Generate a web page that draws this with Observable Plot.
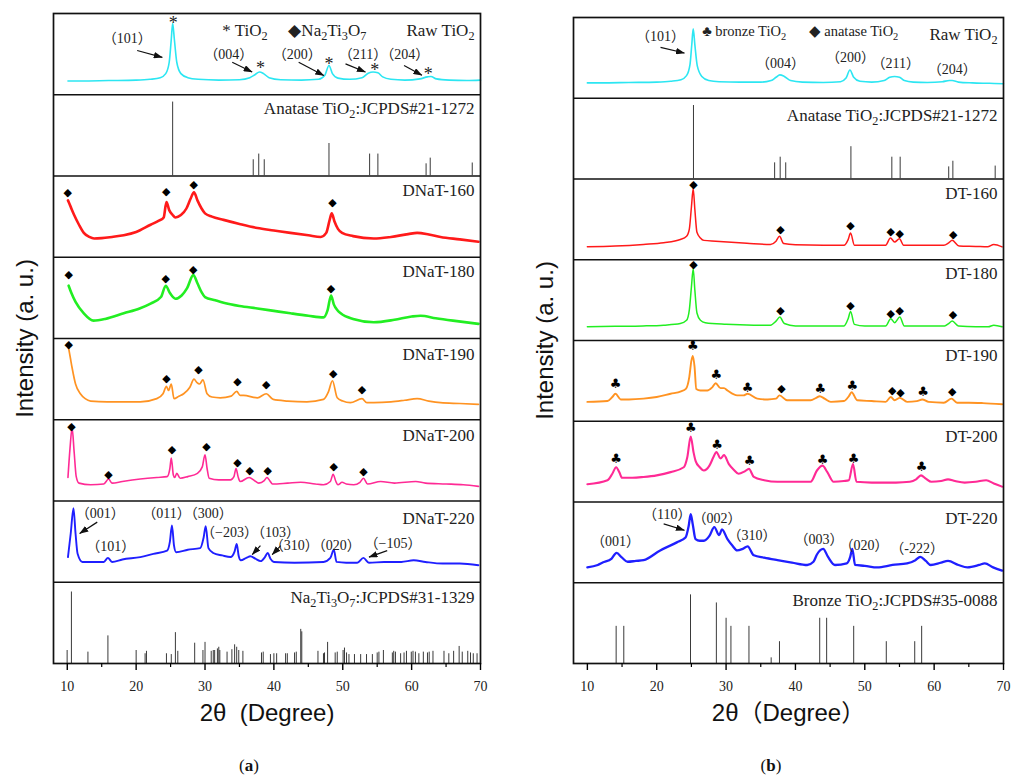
<!DOCTYPE html>
<html><head><meta charset="utf-8">
<script src="https://cdn.jsdelivr.net/npm/d3@7"></script>
<script src="https://cdn.jsdelivr.net/npm/@observablehq/plot@0.6"></script>
<style>
body{margin:0;background:#fff;}
#wrap{position:relative;width:1012px;height:778px;overflow:hidden;background:#fff;}
.panel{position:absolute;top:0;}
.cap{position:absolute;top:756px;line-height:20px;font-size:17px;font-family:"Liberation Serif",serif;transform:translateX(-50%);color:#111;}
</style></head><body><div id="wrap"></div>
<script>
// ---------- shared axis ----------
const xDomain = [8, 70];
const majorTicks = [10, 20, 30, 40, 50, 60, 70];
const minorTicks = [15, 25, 35, 45, 55, 65];

// ---------- reference patterns (2θ, relative height % of row) ----------
const anataseSticks = [[25.3,91],[37.0,20],[37.8,27],[38.6,20],[48.0,40],[53.9,27],[55.1,27],[62.1,15],[62.7,22],[68.8,16]];
const na2ti3o7Sticks = [[9.98,16],[10.6,88],[13.0,14],[15.9,34],[20.0,16],[21.3,12],[21.5,15],[24.4,12],[25.1,11],[25.7,38],[26.05,15],[28.5,25],[29.7,16],[30.0,26],[30.9,15],[31.2,16],[31.4,16],[31.8,18],[32.0,20],[32.15,16],[33.2,14],[33.9,17],[34.3,23],[34.6,20],[34.9,16],[35.5,15],[38.2,13],[38.45,14],[39.5,11],[40.0,12],[40.4,12],[41.7,12],[41.95,12],[43.0,13],[43.25,14],[43.9,42],[44.05,39],[46.4,15],[47.2,12],[47.35,13],[47.8,26],[48.9,13],[49.2,14],[50.05,16],[50.25,19],[50.55,13],[50.9,11],[51.7,11],[52.6,11],[53.45,11],[54.3,11],[55.0,13],[55.25,14],[55.9,16],[57.2,13],[57.4,15],[57.65,14],[58.4,12],[58.9,13],[59.25,15],[59.95,14],[60.2,15],[60.55,14],[61.05,12],[61.7,14],[62.3,13],[62.55,14],[63.1,15],[64.7,15],[65.4,12],[66.1,15],[66.9,21],[67.35,14],[68.15,15],[68.55,13],[68.95,12],[69.5,12]];
const bronzeSticks = [[14.15,46],[15.25,46],[24.87,85],[28.6,75],[30.0,56],[30.7,46],[33.3,46],[36.5,7],[37.7,27],[43.5,56],[44.5,56],[48.4,46],[53.1,27],[57.2,27],[58.2,46]];

// ---------- measured patterns (2θ, relative height % of row) ----------
const rawTiO2 = [[10.1,17],[12,17],[16,17.5],[20,18],[22,19],[23.5,21],[24.3,26],[24.8,40],[25.1,68],[25.3,88],[25.55,68],[25.9,40],[26.5,26],[27.5,21],[29,19],[32,18],[35,18.5],[36.5,21],[37.3,25],[37.9,28],[38.5,26],[39.3,21],[41,18.5],[44,18],[46.5,19],[47.4,24],[48,36],[48.5,26],[49.3,20.5],[51,19],[52.8,21],[53.7,26.5],[54.4,28],[55.1,27],[55.8,22],[57,19],[59,18],[61.2,19.5],[62.3,22],[62.8,22.5],[63.6,19.5],[65.5,18],[68,17.5],[70,18]];
const dnat160 = [[10.1,70],[10.5,62],[11,52],[11.7,40],[12.4,30],[13.2,25],[13.9,23],[15,23.5],[16.5,25],[18.2,27],[20,31],[22.1,40],[23.3,45],[24,49],[24.4,68],[24.8,58],[25.3,52],[25.7,49],[26.5,52],[27.3,60],[27.9,72],[28.4,80],[28.9,70],[29.5,60],[30,54],[31,50],[32.7,46],[35,41],[37.6,36],[40,33],[42.4,30],[45,27],[46.8,25],[47.6,30],[48.1,46],[48.4,54],[48.8,44],[49.3,35],[49.9,30],[51.5,26],[54.5,23],[57,25],[59.5,28.5],[60.8,30],[62.5,28],[64.2,25],[67,22],[69.7,19]];
const dnat180 = [[10.2,65],[10.6,56],[11.2,45],[12.4,31],[13.8,22],[15.5,24],[18.2,31],[20.5,37],[22.1,43],[23.6,51],[24.3,65],[24.9,56],[25.7,49],[26.6,53],[27.4,62],[28.3,78],[28.9,68],[29.5,57],[30,51],[31.5,47],[32.7,44],[35,40],[37.6,37],[40,34],[42.4,31],[45,28],[47.2,26],[47.8,35],[48.3,53],[48.7,42],[49.2,35],[49.7,31],[51.5,24],[54.5,20],[57.5,23],[60,27],[61.3,28],[63.5,25],[66,22],[69.7,18]];
const dnat190 = [[10.2,88],[10.45,76],[10.7,64],[11.2,44],[11.9,32],[12.6,26],[13.4,23],[15.8,22],[18,22],[20.6,22],[23,26],[23.9,32],[24.4,41],[24.7,36],[25.1,44],[25.5,26],[26.2,29],[26.9,32],[27.8,40],[28.4,50],[28.8,46],[29.2,44],[29.7,49],[30.3,32],[31,28],[32.2,27],[33.8,29],[34.6,35],[35.1,30],[35.6,30],[37.6,27],[38.9,32],[39.9,25],[42,23],[44.8,22],[47.2,25],[47.9,34],[48.5,48],[49.2,27],[50,23],[51.1,21],[52.8,26],[53.5,21],[54.5,21],[57,22],[59,24],[60.8,26],[62.5,23],[64.2,21],[67,20],[69.7,19]];
const dnat200 = [[10.1,29],[10.4,65],[10.7,90],[11.0,60],[11.3,30],[11.7,22],[13.4,20],[15.3,21],[16.0,27],[16.5,22],[18,24],[20.6,27],[23,29],[24.5,30],[24.9,40],[25.1,53],[25.4,32],[25.6,29],[25.9,34],[26.4,28],[27.5,30],[28.9,34],[29.6,42],[30.0,57],[30.3,40],[30.6,28],[32,26],[33.7,26],[34.2,30],[34.5,40],[34.8,30],[35.1,24],[36.4,29],[37.2,25],[37.8,22],[38.6,25],[39.0,29],[39.4,25],[39.8,21],[42,22],[43.9,23],[46,21],[47.2,20],[48.2,24],[48.6,33],[49.0,24],[49.3,20],[49.9,23],[50.5,21],[51.6,20],[52.5,23],[53.0,28],[53.6,21],[55.5,24],[57.5,22],[60.6,24],[62,22],[65,21],[67.5,20],[69.7,18]];
const dnat220 = [[10.1,31],[10.5,60],[10.9,91],[11.2,60],[11.5,35],[12.2,25],[14,25],[15.3,25],[15.9,30],[16.5,25],[18,28],[20.6,31],[22.5,35],[24.5,39],[24.9,50],[25.2,70],[25.5,45],[25.8,37],[27.5,40],[29.3,42],[29.8,55],[30.1,69],[30.5,42],[31.2,36],[32.5,33],[33.7,31],[34.3,38],[34.6,47],[34.9,32],[35.2,27],[36.0,30],[36.6,32],[37.3,29],[38.1,26],[38.7,31],[39.1,36],[39.5,29],[40.0,25],[43,24],[47.2,25],[48.2,30],[48.7,40],[49.1,25],[50.5,24],[52.1,24],[53.0,30],[53.8,24],[56,25],[58.5,25],[60.3,27],[62,25],[64.5,23],[67,23],[69.7,21]];
const rawTiO2b = [[10,19],[12,19],[16,19.5],[20,20],[22,21],[23.5,23],[24.3,28],[24.8,42],[25.05,66],[25.26,86],[25.5,66],[25.85,40],[26.5,27],[27.5,22],[29,20.5],[32,20],[35,20],[36.5,22],[37.2,26],[37.75,29],[38.4,27],[39.3,22],[41,20],[44,19.5],[46.5,20.5],[47.3,25],[47.85,35],[48.4,26],[49.3,21],[51,20],[52.8,22],[53.6,26],[54.3,27],[55.0,26],[55.7,22],[57,20],[59,19.5],[61.2,20.5],[62.2,22],[62.6,22],[63.5,20],[65.5,19],[68,18.5],[70,18]];
const dt160 = [[10,16],[14,17],[18.1,19],[21,21],[23.4,25],[24.3,29],[24.7,38],[25.0,65],[25.26,88],[25.5,62],[25.8,34],[26.3,27],[26.8,24],[28.5,23],[30.2,22],[33,20.5],[36.4,19],[37.2,23],[37.7,29],[38.3,20],[40,18.5],[44,18],[47.0,18],[47.6,25],[47.95,33],[48.5,18],[50,18],[53.0,18],[53.7,27],[54.3,22],[55.0,26],[55.6,18],[58,18],[61.4,18],[62.1,21],[62.6,24],[63.6,17],[66,16.5],[67.7,16],[68.6,19],[69.8,16]];
const dt180 = [[10,17],[14,17.5],[18,18],[21,19],[23.4,21],[24.3,25],[24.7,38],[25.0,66],[25.26,89],[25.5,62],[25.8,34],[26.3,25],[27,22],[30,20],[34,19],[36.4,19],[37.2,24],[37.75,29],[38.4,21],[40,18],[44,18],[47.0,18],[47.6,27],[47.95,36],[48.5,20],[50,18],[53.0,18],[53.75,27],[54.3,22],[55.05,29],[55.7,18],[58,18],[61.5,18],[62.1,21],[62.6,24],[63.5,18],[66,17],[67.8,17],[68.6,19],[69.8,17]];
const dt190 = [[10,24],[12.9,25],[13.6,30],[14.05,34],[14.8,27],[16,27],[18.1,28],[20,30],[22,34],[23.5,37],[24.2,40],[24.7,55],[25.0,75],[25.2,81],[25.45,68],[25.7,40],[26.3,38],[27.3,38],[28.0,42],[28.5,47],[29.2,41],[29.7,41],[30.2,38],[31.6,32],[32.5,32],[33.1,34],[34.5,28],[36,27],[37.2,28],[37.7,32],[38.8,26],[40.5,26],[42.2,26],[43.0,29],[43.5,31],[44.2,28],[45.1,24],[47,25],[47.7,31],[48.1,36],[48.9,26],[51,25],[53.0,24],[53.75,30],[54.3,26],[55.05,29],[56.1,24],[57.5,25],[58.3,27],[59.2,24],[61.4,23],[62.5,28],[63.3,23],[65,23],[67,22.5],[69.8,21]];
const dt200 = [[10,22],[12.9,27],[13.6,35],[14.15,43],[14.6,37],[15.0,30],[16.5,30],[18.1,31],[20,33],[22,37],[23.9,43],[24.4,55],[24.9,81],[25.3,62],[25.6,51],[26.2,43],[26.8,39],[27.6,45],[28.2,56],[28.6,62],[29.2,54],[29.7,58],[30.4,47],[31.1,40],[31.8,35],[32.7,38],[33.3,41],[34.0,31],[35.5,27],[37.4,25],[40,25],[42.2,25],[43.1,39],[43.9,45],[44.6,37],[45.5,25],[47.0,26],[47.7,27],[48.3,47],[48.8,25],[51,24],[54.5,24],[56.5,25],[57.4,28],[58.1,33],[58.8,29],[59.6,25],[61,26],[62.0,28],[63,26],[64.4,24],[66,25],[67.5,27],[68.6,23],[69.8,19]];
const dt220 = [[10,19],[11.5,22],[12.2,25],[13.5,30],[14.2,37],[15.0,31],[15.8,26],[17,27],[18.1,28],[20.5,40],[22.9,50],[24.15,56],[24.6,70],[24.9,85],[25.2,72],[25.6,54],[26.2,52],[26.8,52],[27.6,58],[28.3,69],[29.0,59],[29.4,66],[30.2,54],[30.9,46],[31.6,40],[32.4,42],[33.1,45],[34.0,34],[35.5,31],[37.4,28],[39.5,25],[41.7,22],[42.6,26],[43.1,35],[44.0,42],[44.7,32],[45.7,22],[47.4,24],[47.9,32],[48.2,42],[48.6,22],[50,21],[51.8,19],[54,22],[56.1,24],[57.3,28],[58.0,32],[58.8,27],[59.5,22],[61,25],[62.0,27],[63.5,22],[64.8,19],[66.5,22],[67.3,24],[68.5,19],[69.8,15]];

// ---------- row labels (text with _n = subscript) ----------
const rowLabelsA = ["Raw TiO_2","Anatase TiO_2:JCPDS#21-1272","DNaT-160","DNaT-180","DNaT-190","DNaT-200","DNaT-220","Na_2Ti_3O_7:JCPDS#31-1329"];
const rowLabelVA = [79,83,82,83,80,81,78,81];
const rowLabelsB = ["Raw TiO_2","Anatase TiO_2:JCPDS#21-1272","DT-160","DT-180","DT-190","DT-200","DT-220","Bronze TiO_2:JCPDS#35-0088"];
const rowLabelVB = [79,79,82,83,81,81,80,78];

// ---------- peak markers [row, 2θ, height%] ----------
const asterisksA = [[0,25.4,93],[0,38.05,38],[0,48.0,42],[0,54.65,35],[0,62.4,30]];
const diamondsA = [[2,10.08,80],[2,24.36,81],[2,28.37,89],[2,48.5,68],
  [3,10.2,79],[3,24.3,74],[3,28.3,85],[3,48.3,62],
  [4,10.2,93],[4,24.4,51],[4,29.05,62],[4,34.7,47],[4,38.9,43],[4,48.6,57],[4,52.8,37],
  [5,10.6,92],[5,16.0,33],[5,25.2,64],[5,30.2,67],[5,34.7,48],[5,36.5,38],[5,39.1,37],[5,48.7,42],[5,53.0,36]];
const diamondsB = [[2,25.3,93],[2,37.85,37],[2,47.95,42],[2,53.75,35],[2,55.05,33],[2,62.75,31],
  [3,25.3,94],[3,37.85,37],[3,47.95,44],[3,53.75,34],[3,55.05,37],[3,62.7,32],
  [4,38.0,41],[4,53.95,38],[4,55.15,36],[4,62.6,37]];
const clubsB = [[4,14.05,46],[4,25.2,94],[4,28.6,57.5],[4,33.1,42],[4,43.6,40],[4,48.2,44],[4,58.4,37],
  [5,14.15,53],[5,24.9,92],[5,28.7,71],[5,33.4,51],[5,43.9,52],[5,48.4,53],[5,58.2,43]];

// ---------- annotations [row, 2θ, height%, text] ----------
const hklA = [[0,18.7,69,"（101）"],[0,33.45,50,"（004）"],[0,43.4,50,"（200）"],[0,56.0,50,"（211）（204）"],
  [6,14.8,84,"（001）"],[6,16.3,44,"（101）"],[6,27.45,84,"（011）（300）"],[6,36.6,61,"（−203）（103）"],[6,46.0,45,"（310）（020）"],[6,57.3,48,"（−105）"]];
const legendA = [[0,32.5,79,"* TiO_2"],[0,42.1,79,"◆Na_2Ti_3O_7"]];
const arrowsA = [[0,20.15,54.5,23.8,46],[0,33.95,40,36.85,28],[0,43.6,40,47.25,23.7],[0,50.4,38,53.3,28],[0,58.9,36,61.5,24],
  [6,14.35,74,11.8,60],[6,38.05,45,36.85,34],[6,41.0,45,39.75,34],[6,56.45,39,53.8,31]];
const hklB = [[0,20.55,76,"（101）"],[0,37.85,43,"（004）"],[0,47.95,50,"（200）"],[0,54.45,43,"（211）"],[0,62.6,35,"（204）"],
  [6,14.05,51,"（001）"],[6,21.5,85,"（110）"],[6,28.7,80,"（002）"],[6,33.75,58.5,"（310）"],[6,43.4,54,"（003）"],[6,49.9,46,"（020）"],[6,57.55,43,"（-222）"]];
const legendB = [[0,26.55,83,"♣ bronze TiO_2"],[0,41.9,83,"◆ anatase TiO_2"]];
const arrowsB = [[0,20.55,63,24.0,56],[6,21.0,73,24.0,65]];

const colors = {cyan:"#2ce6f2", red:"#ff1a1a", green:"#22ee22", orange:"#ff9322", pink:"#ff2a95", blue:"#1f1fff"};

const Y = (row, v) => 7 - row + v / 100;
const SERIF = "'Liberation Serif','Times New Roman',serif";
const CJKSERIF = "'Liberation Serif','Noto Sans CJK SC',serif";
const SANS = "'Liberation Sans',Arial,sans-serif";
const NS = "http://www.w3.org/2000/svg";

function subify(svg) {
  svg.querySelectorAll("text").forEach(t => {
    const targets = t.querySelector("tspan") ? [...t.querySelectorAll("tspan")] : [t];
    targets.forEach(el => {
      const s = el.textContent;
      if (!s.includes("_")) return;
      const parts = s.split(/_(\d)/);
      el.textContent = "";
      let down = false;
      parts.forEach((p, i) => {
        if (!p) return;
        const sp = document.createElementNS(NS, "tspan");
        sp.textContent = p;
        if (i % 2 === 1) {
          sp.setAttribute("font-size", "72%");
          if (!down) { sp.setAttribute("dy", "4"); down = true; }
        } else if (down) { sp.setAttribute("dy", "-4"); down = false; }
        el.appendChild(sp);
      });
    });
  });
}

function fillMarkers(svg) {
  svg.querySelectorAll("marker").forEach(m => {
    m.setAttribute("viewBox", "0 0 10 10");
    m.setAttribute("refX", "9.5");
    m.setAttribute("refY", "5");
    m.setAttribute("markerWidth", "9");
    m.setAttribute("markerHeight", "6.5");
    m.setAttribute("markerUnits", "userSpaceOnUse");
    m.setAttribute("preserveAspectRatio", "none");
    m.setAttribute("orient", "auto");
    m.setAttribute("fill", "#111");
    m.setAttribute("stroke", "none");
    m.innerHTML = "";
    const p = document.createElementNS(NS, "path");
    p.setAttribute("d", "M0,0L10,5L0,10Z");
    p.setAttribute("fill", "#111");
    p.setAttribute("stroke", "none");
    m.appendChild(p);
  });
}

function panel(cfg) {
  const marks = [
    Plot.ruleY([1,2,3,4,5,6,7], {stroke: "#111", strokeWidth: 1.5})
  ];
  cfg.sticks.forEach(([row, data]) => {
    marks.push(Plot.ruleX(data, {x: d => d[0], y1: () => 7 - row, y2: d => Y(row, d[1]), stroke: "#3a3a3a", strokeWidth: 1}));
  });
  cfg.lines.forEach(([row, data, color, sw]) => {
    marks.push(Plot.line(data, {x: d => d[0], y: d => Y(row, d[1]), stroke: color, strokeWidth: sw, curve: "monotone-x", strokeLinejoin: "round"}));
  });
  marks.push(
    Plot.link(cfg.arrows, {x1: d => d[1], y1: d => Y(d[0], d[2]), x2: d => d[3], y2: d => Y(d[0], d[4]), stroke: "#111", strokeWidth: 1.2, markerEnd: "arrow"}),
    Plot.text(cfg.hkl, {x: d => d[1], y: d => Y(d[0], d[2]), text: d => d[3], fontSize: 14, fontFamily: CJKSERIF, fill: "#222"}),
    Plot.text(cfg.legend, {x: d => d[1], y: d => Y(d[0], d[2]), text: d => d[3], textAnchor: "start", fontSize: cfg.legendSize, fontFamily: SERIF, fill: "#222"}),
    Plot.text(cfg.labels, {x: () => 70, y: (d, i) => Y(i, cfg.labelV[i]), text: d => d, dx: -6, textAnchor: "end", fontSize: 17, fontFamily: SERIF, fill: "#222"})
  );
  if (cfg.asterisks) marks.push(Plot.text(cfg.asterisks, {x: d => d[1], y: d => Y(d[0], d[2]), text: () => "*", dy: 4, fontSize: 18, fontFamily: SERIF, fill: "#222"}));
  if (cfg.diamonds) marks.push(Plot.text(cfg.diamonds, {x: d => d[1], y: d => Y(d[0], d[2]), text: () => "◆", fontSize: 11, fontFamily: "'DejaVu Sans'", fill: "#000"}));
  if (cfg.clubs) marks.push(Plot.text(cfg.clubs, {x: d => d[1], y: d => Y(d[0], d[2]), text: () => "♣", fontSize: 13, fontFamily: "'DejaVu Sans'", fill: "#000"}));
  marks.push(
    Plot.frame({stroke: "#111", strokeWidth: 1.7}),
    Plot.axisX(majorTicks, {tickSize: 7, tickPadding: 11, fontSize: 14, fontFamily: SERIF, strokeWidth: 1.4, label: null, tickFormat: d => String(d), fill: "#222"}),
    Plot.axisX(minorTicks, {tickSize: 4, tickPadding: 0, strokeWidth: 1.2, label: null, tickFormat: () => ""}),
    Plot.text([cfg.xTitle], {frameAnchor: "bottom", dy: 57, text: d => d, fontSize: 24, fontFamily: cfg.xTitleFont, fill: "#111"}),
    Plot.text(["Intensity (a. u.)"], {frameAnchor: "left", rotate: -90, dx: -28, text: d => d, textAnchor: "middle", fontSize: 24, fontFamily: SANS, fill: "#111"})
  );
  const svg = Plot.plot({
    width: cfg.width, height: 778,
    marginLeft: cfg.ml, marginRight: cfg.mr, marginTop: cfg.mt, marginBottom: 115,
    x: {domain: xDomain},
    y: {domain: [0, 8], axis: null},
    style: {background: "transparent", overflow: "visible", fontFamily: SERIF},
    marks
  });
  fillMarkers(svg);
  subify(svg);
  svg.classList.add("panel");
  svg.style.left = cfg.left + "px";
  return svg;
}

const wrap = document.getElementById("wrap");
wrap.appendChild(panel({
  left: 0, width: 510, ml: 53, mr: 30, mt: 13,
  sticks: [[1, anataseSticks], [7, na2ti3o7Sticks]],
  lines: [[0, rawTiO2, colors.cyan, 1.6], [2, dnat160, colors.red, 2.6], [3, dnat180, colors.green, 2.6],
          [4, dnat190, colors.orange, 1.7], [5, dnat200, colors.pink, 1.6], [6, dnat220, colors.blue, 1.9]],
  arrows: arrowsA, hkl: hklA, legend: legendA, legendSize: 17,
  labels: rowLabelsA, labelV: rowLabelVA,
  asterisks: asterisksA, diamonds: diamondsA,
  xTitle: "2θ  (Degree)", xTitleFont: SANS
}));
wrap.appendChild(panel({
  left: 510, width: 502, ml: 63, mr: 9, mt: 17,
  sticks: [[1, anataseSticks], [7, bronzeSticks]],
  lines: [[0, rawTiO2b, colors.cyan, 1.6], [2, dt160, colors.red, 1.5], [3, dt180, colors.green, 1.5],
          [4, dt190, colors.orange, 1.9], [5, dt200, colors.pink, 2.1], [6, dt220, colors.blue, 2.3]],
  arrows: arrowsB, hkl: hklB, legend: legendB, legendSize: 14.5,
  labels: rowLabelsB, labelV: rowLabelVB,
  diamonds: diamondsB, clubs: clubsB,
  xTitle: "2θ（Degree）", xTitleFont: "'Liberation Sans','Noto Sans CJK SC',sans-serif"
}));
const capA = document.createElement("div");
capA.className = "cap"; capA.style.left = "249px"; capA.innerHTML = "(<b>a</b>)";
const capB = document.createElement("div");
capB.className = "cap"; capB.style.left = "771px"; capB.innerHTML = "(<b>b</b>)";
wrap.appendChild(capA); wrap.appendChild(capB);
</script></body></html>
